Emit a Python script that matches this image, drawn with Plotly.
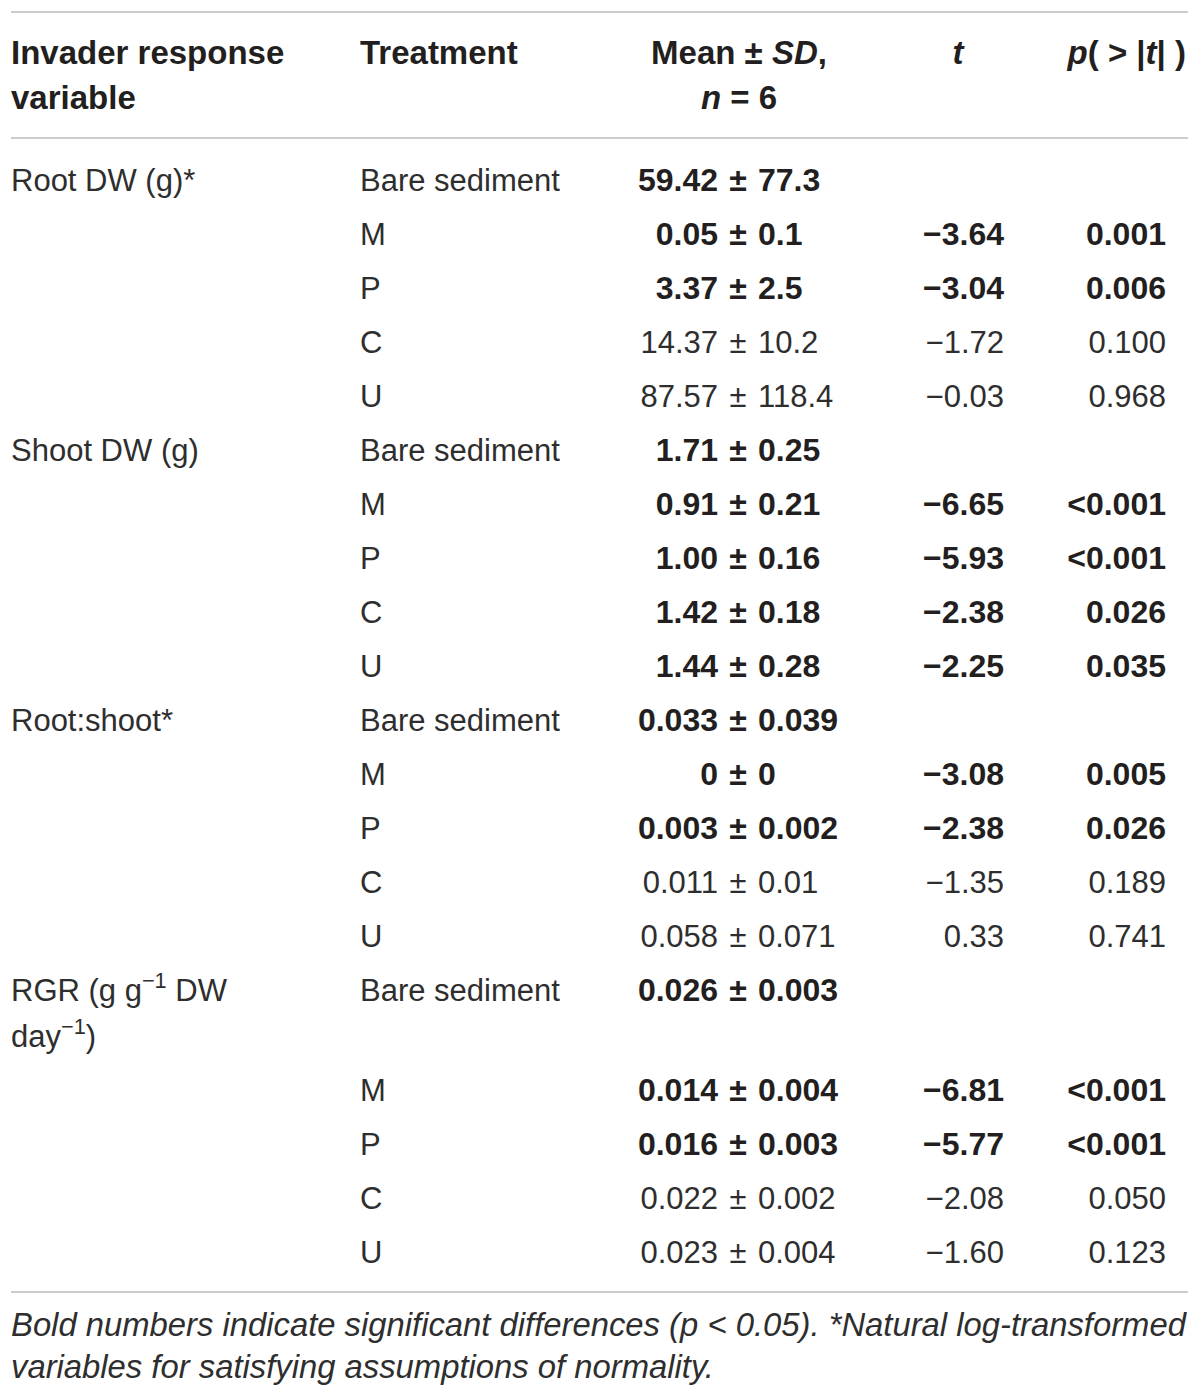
import plotly.graph_objects as go

# ---------------- data ----------------
variables = ["Root DW (g)*", "Shoot DW (g)", "Root:shoot*", "RGR (g g<sup>−1</sup> DW"]
variable_line2 = ["", "", "", "day<sup>−1</sup>)"]
treatments = ["Bare sediment", "M", "P", "C", "U"]
means = ["59.42", "0.05", "3.37", "14.37", "87.57",
         "1.71", "0.91", "1.00", "1.42", "1.44",
         "0.033", "0", "0.003", "0.011", "0.058",
         "0.026", "0.014", "0.016", "0.022", "0.023"]
sds = ["77.3", "0.1", "2.5", "10.2", "118.4",
       "0.25", "0.21", "0.16", "0.18", "0.28",
       "0.039", "0", "0.002", "0.01", "0.071",
       "0.003", "0.004", "0.003", "0.002", "0.004"]
t_vals = ["", "−3.64", "−3.04", "−1.72", "−0.03",
          "", "−6.65", "−5.93", "−2.38", "−2.25",
          "", "−3.08", "−2.38", "−1.35", "0.33",
          "", "−6.81", "−5.77", "−2.08", "−1.60"]
p_vals = ["", "0.001", "0.006", "0.100", "0.968",
          "", "<0.001", "<0.001", "0.026", "0.035",
          "", "0.005", "0.026", "0.189", "0.741",
          "", "<0.001", "<0.001", "0.050", "0.123"]
significant = [1, 1, 1, 0, 0,
               1, 1, 1, 1, 1,
               1, 1, 1, 0, 0,
               1, 1, 1, 0, 0]
headers = ["Invader response", "Treatment", "Mean ± <i>SD</i>,", "<i>t</i>", "<i>p</i>( &gt; |<i>t</i>| )"]
headers_line2 = ["variable", "", "<i>n</i> = 6", "", ""]
footnote = ["Bold numbers indicate significant differences (p < 0.05). *Natural log-transformed",
            "variables for satisfying assumptions of normality."]

# ---------------- layout constants ----------------
W, H = 1200, 1398
BODY = 8  # browser default page margin
FONT = "Liberation Sans"
FS, FSB, FSH, FSN = 31, 32, 33, 32.8
TXT = "#231f20"
TXT_REG = "#2e2e2e"
RULE = "#cccccc"
X_VAR, X_TRT, X_PM, X_T, X_P = 11, 360, 738, 1004, 1166
PM_GAP = 20
X_HDR_MEAN, X_HDR_T, X_HDR_P = 739, 958, 1186
ROW0, ROWH, EXTRA = 183, 54, 46
HDR1, HDR2 = 56, 101
FOOT1, FOOT2 = 1328, 1370

row_y = []
for i in range(len(means)):
    y = ROW0 + ROWH * i
    if i > 15:
        y += EXTRA
    row_y.append(y)

fig = go.Figure()

def esc(s):
    return s.replace("<", "&lt;")

def add_text(xs, ys, texts, pos, size=FS, color=TXT):
    keep = [(x, y, t) for x, y, t in zip(xs, ys, texts) if t]
    if not keep:
        return
    xs, ys, texts = zip(*keep)
    fig.add_trace(go.Scatter(
        x=list(xs), y=list(ys), text=list(texts), mode="text", textposition=pos,
        textfont=dict(family=FONT, size=size, color=color),
        hoverinfo="skip", showlegend=False, cliponaxis=False))

def split(vals, flags, on):
    return [esc(v) if f == on else "" for v, f in zip(vals, flags)]

def bold(vals):
    return [f"<b>{v}</b>" if v else "" for v in vals]

# header
add_text([X_VAR, X_TRT, X_VAR], [HDR1, HDR1, HDR2],
         [f"<b>{headers[0]}</b>", f"<b>{headers[1]}</b>", f"<b>{headers_line2[0]}</b>"],
         "middle right", size=FSH)
add_text([X_HDR_MEAN, X_HDR_MEAN, X_HDR_T], [HDR1, HDR2, HDR1],
         [f"<b>{headers[2]}</b>", f"<b>{headers_line2[2]}</b>", f"<b>{headers[3]}</b>"],
         "middle center", size=FSH)
add_text([X_HDR_P], [HDR1], [f"<b>{headers[4]}</b>"], "middle left", size=FSH)

# variable names
var_rows = [0, 5, 10, 15]
add_text([X_VAR] * 5, [row_y[r] for r in var_rows] + [row_y[15] + EXTRA],
         variables + [variable_line2[3]], "middle right", size=FS, color=TXT_REG)

# treatments
trts = [treatments[i % 5] for i in range(len(means))]
add_text([X_TRT] * len(trts), row_y, trts, "middle right", size=FS, color=TXT_REG)

# numeric columns: regular and bold groups
n = len(means)
pm = ["±"] * n
for on, size, fmt, col in ((0, FS, lambda v: v, TXT_REG), (1, FSB, bold, TXT)):
    add_text([X_PM - PM_GAP] * n, row_y, fmt(split(means, significant, on)), "middle left", size=size, color=col)
    add_text([X_PM] * n, row_y, fmt(split(pm, significant, on)), "middle center", size=size, color=col)
    add_text([X_PM + PM_GAP] * n, row_y, fmt(split(sds, significant, on)), "middle right", size=size, color=col)
    add_text([X_T] * n, row_y, fmt(split(t_vals, significant, on)), "middle left", size=size, color=col)
    add_text([X_P] * n, row_y, fmt(split(p_vals, significant, on)), "middle left", size=size, color=col)

# footnote
add_text([X_VAR, X_VAR], [FOOT1, FOOT2], [f"<i>{esc(f)}</i>" for f in footnote],
         "middle right", size=FSN, color=TXT_REG)

# rules
for y in (12, 138, 1292):
    fig.add_shape(type="line", x0=X_VAR, x1=1188, y0=y, y1=y, xref="x", yref="y",
                  line=dict(color=RULE, width=2))

fig.update_layout(
    width=W - BODY, height=H - BODY, margin=dict(l=0, r=0, t=0, b=0),
    paper_bgcolor="white", plot_bgcolor="white",
    xaxis=dict(range=[BODY, W], visible=False, fixedrange=True),
    yaxis=dict(range=[H, BODY], visible=False, fixedrange=True),
)
fig.write_html("out.html")
